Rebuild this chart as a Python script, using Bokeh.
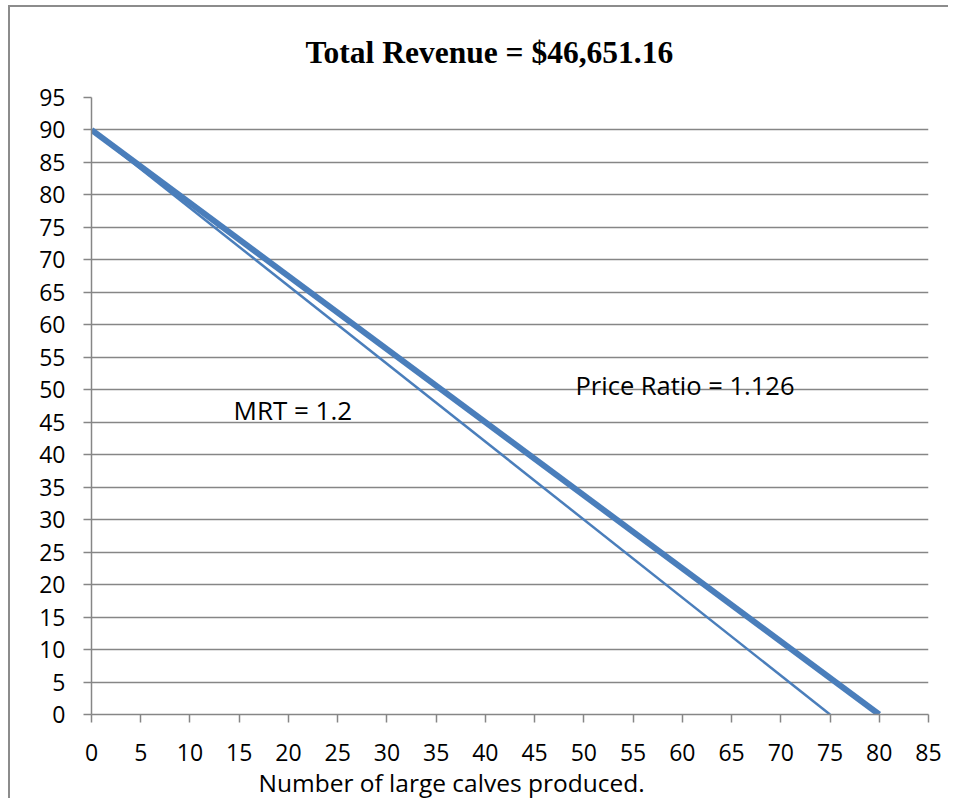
from bokeh.plotting import figure
from bokeh.models import FixedTicker, Label, Range1d, Title
from bokeh.embed import file_html
from bokeh.resources import INLINE

# Data
x_mrt = [0, 75]
y_mrt = [90, 0]
x_price = [0, 80]
y_price = [90, 0]
x_ticks = [0, 5, 10, 15, 20, 25, 30, 35, 40, 45, 50, 55, 60, 65, 70, 75, 80, 85]
y_ticks = [0, 5, 10, 15, 20, 25, 30, 35, 40, 45, 50, 55, 60, 65, 70, 75, 80, 85, 90, 95]
title_text = "Total Revenue = $46,651.16"
xlabel_text = "Number of large calves produced."
mrt_text = "MRT = 1.2"
price_text = "Price Ratio = 1.126"

BLUE = "#4a7ebb"
GRAY = "#868686"
FONT = "Open Sans"

p = figure(output_backend="svg", toolbar_location=None,
           x_range=Range1d(0, 85), y_range=Range1d(0, 95),
           min_border_left=81, min_border_right=20, min_border_top=90, min_border_bottom=60,
           frame_width=837, frame_height=617, title=None)
p.outline_line_color = None
p.background_fill_color = "white"
p.border_fill_color = "white"

p.xgrid.grid_line_color = None
p.ygrid.grid_line_color = GRAY
p.ygrid.grid_line_width = 1.5

for ax in (p.xaxis[0], p.yaxis[0]):
    ax.axis_line_color = GRAY
    ax.axis_line_width = 1.5
    ax.major_tick_line_color = GRAY
    ax.major_tick_line_width = 1.5
    ax.major_tick_in = 0
    ax.major_tick_out = 8
    ax.minor_tick_line_color = None
    ax.major_label_text_font = FONT
    ax.major_label_text_font_size = "23px"
    ax.major_label_text_color = "black"

p.xaxis.ticker = FixedTicker(ticks=x_ticks)
p.yaxis.ticker = FixedTicker(ticks=y_ticks)
p.xaxis.major_label_standoff = 21
p.yaxis.major_label_standoff = 18

p.line(x_price, y_price, line_color=BLUE, line_width=6)
p.line(x_mrt, y_mrt, line_color=BLUE, line_width=2.5)

t = Title(text=title_text, text_font="Liberation Serif", text_font_style="bold",
          text_font_size="31.5px", align="left", offset=214, standoff=52,
          vertical_align="top", text_color="black")
p.add_layout(t, "above")

xl = Title(text=xlabel_text, text_font=FONT, text_font_style="normal",
           text_font_size="24.5px", align="left", offset=167, standoff=0, text_color="black")
p.add_layout(xl, "below")

p.add_layout(Label(x=14.42, y=46.96, text=mrt_text, text_font=FONT,
                   text_font_size="26px", text_align="left",
                   text_baseline="middle", text_color="black"))
p.add_layout(Label(x=49.15, y=50.8, text=price_text, text_font=FONT,
                   text_font_size="25.5px", text_align="left",
                   text_baseline="middle", text_color="black"))

p.styles = {"margin-left": "8px", "margin-top": "5px",
            "border-left": "2px solid #8c8c8c", "border-top": "2px solid #8c8c8c"}

open("out.html", "w").write(file_html(p, INLINE))
